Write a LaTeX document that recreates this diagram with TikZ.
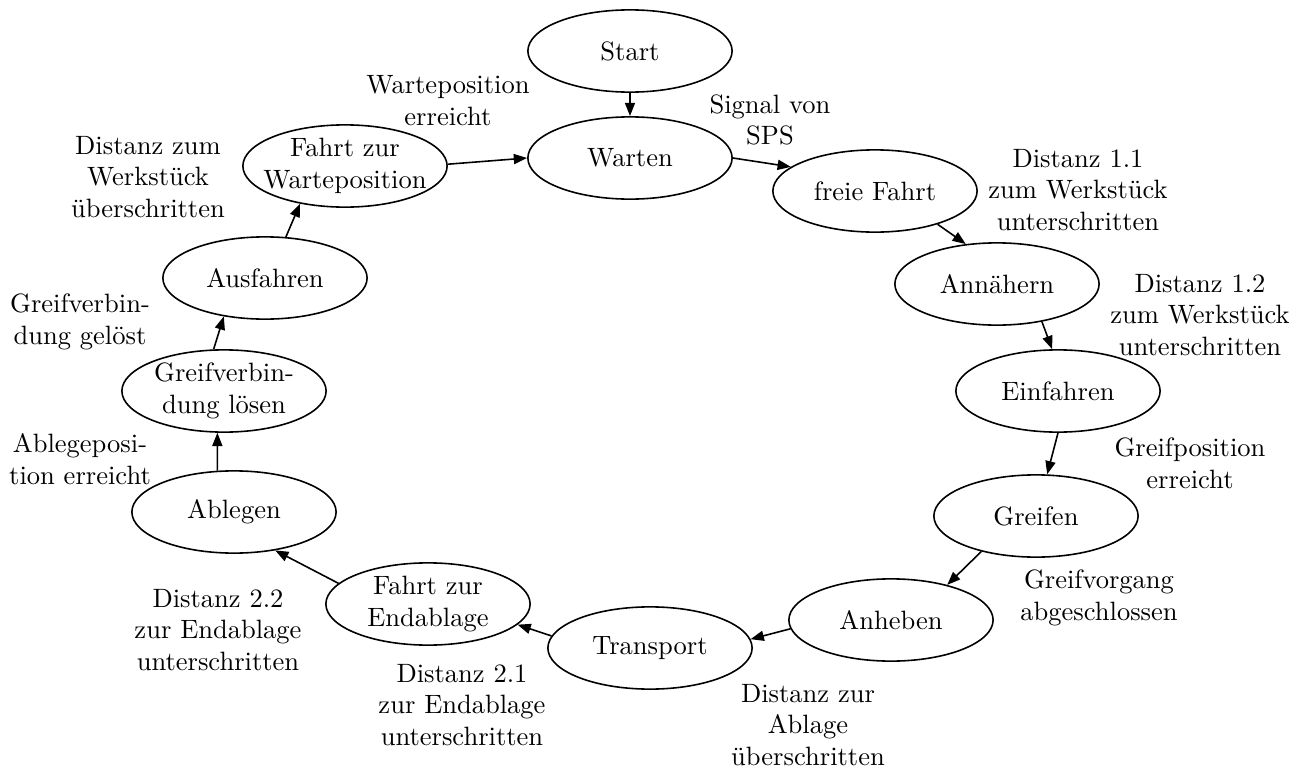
\documentclass[tikz,border=0pt]{standalone}
\usetikzlibrary{shapes.geometric}
\usetikzlibrary{arrows.meta}

\begin{document}
\begin{tikzpicture}[x=0.377pt, y=-0.377pt,
	state/.style={draw, ellipse, semithick, minimum width=77pt, minimum height=31pt, inner sep=0pt},
	statetext/.style={label={[align=center]center:#1}},
	cond/.style={align=center, inner sep=0pt},
	transition/.style={semithick, -{Triangle[length=5pt,width=3.8pt]}}]
	
	\useasboundingbox (0,0) rectangle (1305,771);
	
	\node [state, statetext={Start}] at (630,51) (start) {};
	\node [state, statetext={Warten}] at (630,158) (warten) {};
	\node [state, statetext={freie Fahrt}] at (875,191) (frei) {};
	\node [state, statetext={Annähern}] at (997,284) (naehern) {};
	\node [state, statetext={Einfahren}] at (1058,391) (einfahren) {};
	\node [state, statetext={Greifen}] at (1036,516) (greifen) {};
	\node [state, statetext={Anheben}] at (891,620) (anheben) {};
	\node [state, statetext={Transport}] at (650,648) (transport) {};
	\node [state, statetext={Fahrt zur\\Endablage}] at (428,604) (zurablage) {};
	\node [state, statetext={Ablegen}] at (234,512) (ablegen) {};
	\node [state, statetext={Greifverbin-\\dung lösen}] at (224,391) (loesen) {};
	\node [state, statetext={Ausfahren}] at (265,278) (ausfahren) {};
	\node [state, statetext={Fahrt zur\\Warteposition}] at (345,166) (zurwarte) {};
	
	\node [cond] at (448,101) (cWarte) {Warteposition\\erreicht};
	\node [cond] at (770,120) (cSignal) {Signal von\\SPS};
	\node [cond] at (1078,190) (cDist11) {Distanz 1.1\\zum Werkstück\\unterschritten};
	\node [cond] at (1200,315) (cDist12) {Distanz 1.2\\zum Werkstück\\unterschritten};
	\node [cond] at (1190,463) (cGreifpos) {Greifposition\\erreicht};
	\node [cond] at (1099,598) (cGreifvorg) {Greifvorgang\\abgeschlossen};
	\node [cond] at (808,725) (cAblage) {Distanz zur\\Ablage\\überschritten};
	\node [cond] at (462,705) (cDist21) {Distanz 2.1\\zur Endablage\\unterschritten};
	\node [cond] at (218,630) (cDist22) {Distanz 2.2\\zur Endablage\\unterschritten};
	\node [cond] at (80,459) (cAblegepos) {Ablegeposi-\\tion erreicht};
	\node [cond] at (80,322) (cGeloest) {Greifverbin-\\dung gelöst};
	\node [cond] at (148,177) (cWerkst) {Distanz zum\\Werkstück\\überschritten};
	
	\draw [transition] (start.south) -- (warten.north);
	\draw [transition] (warten.east) -- (frei.164);
	\draw [transition] (frei.-28) -- (naehern.128);
	\draw [transition] (naehern.-40) -- (einfahren.98);
	\draw [transition] (einfahren.south) -- (greifen.75);
	\draw [transition] (greifen.213) -- (anheben.32);
	\draw [transition] (anheben.185) -- (transport.5);
	\draw [transition] (transport.173) -- (zurablage.-13);
	\draw [transition] (zurablage.167) -- (ablegen.-43);
	\draw [transition] (ablegen.112) -- (loesen.-99);
	\draw [transition] (loesen.104) -- (ausfahren.223);
	\draw [transition] (ausfahren.63) -- (zurwarte.220);
	\draw [transition] (zurwarte.1) -- (warten.west);
	
\end{tikzpicture}
\end{document}
